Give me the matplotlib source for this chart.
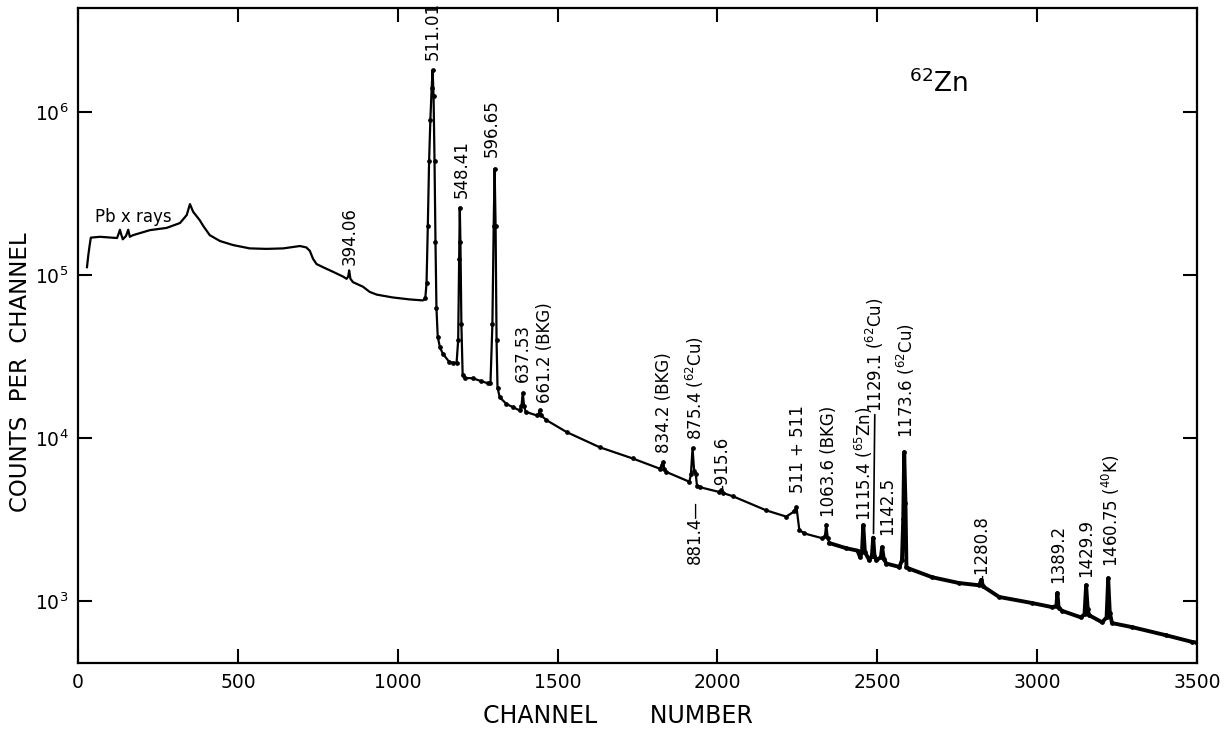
import numpy as np
import matplotlib
matplotlib.use("Agg")
from matplotlib import pyplot as plt
from matplotlib.ticker import NullLocator

# 62Zn gamma-ray spectrum
channel = [28, 32, 36, 40, 69, 122, 128, 131, 135, 140, 150, 157, 162, 172, 225, 277, 319, 340,
           350, 360, 381, 392, 412, 444, 485, 537, 590, 642, 694, 714, 725, 735, 746, 766, 797,
           829, 840, 845, 848, 852, 860, 891, 912, 934, 984, 1037, 1079, 1086, 1090, 1094, 1098,
           1102, 1106, 1109, 1112, 1115, 1118, 1121, 1125, 1132, 1141, 1160, 1172, 1184, 1189,
           1192, 1194, 1196, 1199, 1203, 1210, 1235, 1260, 1282, 1290, 1296, 1300, 1303, 1306,
           1309, 1312, 1319, 1340, 1360, 1381, 1387, 1391, 1395, 1400, 1434, 1441, 1444, 1448,
           1465, 1528, 1631, 1735, 1819, 1826, 1829, 1833, 1840, 1912, 1917, 1922, 1927, 1932,
           1936, 1945, 2006, 2012, 2018, 2048, 2153, 2215, 2240, 2247, 2256, 2272, 2328, 2336,
           2340, 2345, 2350, 2403, 2438, 2446, 2452, 2456, 2461, 2475, 2483, 2487, 2491, 2497,
           2511, 2515, 2520, 2528, 2569, 2577, 2581, 2584, 2588, 2591, 2600, 2672, 2756, 2819,
           2825, 2831, 2881, 2984, 3047, 3060, 3063, 3067, 3078, 3137, 3148, 3153, 3158, 3162,
           3203, 3217, 3222, 3227, 3234, 3297, 3403, 3484, 3500]
counts = [1.12e5, 1.32e5, 1.51e5, 1.70e5, 1.72e5, 1.69e5, 1.82e5, 1.90e5, 1.78e5, 1.66e5,
          1.74e5, 1.90e5, 1.72e5, 1.76e5, 1.89e5, 1.95e5, 2.09e5, 2.34e5, 2.73e5, 2.45e5,
          2.17e5, 2.0e5, 1.76e5, 1.62e5, 1.53e5, 1.46e5, 1.45e5, 1.46e5, 1.51e5, 1.48e5,
          1.41e5, 1.26e5, 1.17e5, 1.12e5, 1.05e5, 9.8e4, 9.5e4, 9.8e4, 1.07e5, 9.5e4, 9.06e4,
          8.5e4, 7.9e4, 7.6e4, 7.3e4, 7.1e4, 7.0e4, 7.2e4, 8.9e4, 2.0e5, 5.0e5, 9.0e5, 1.4e6,
          1.81e6, 1.26e6, 5.0e5, 1.6e5, 6.3e4, 4.2e4, 3.6e4, 3.3e4, 2.95e4, 2.9e4, 2.9e4,
          4.0e4, 1.26e5, 2.6e5, 1.6e5, 5.0e4, 2.43e4, 2.34e4, 2.33e4, 2.24e4, 2.17e4, 2.19e4,
          5.0e4, 2.0e5, 4.5e5, 2.0e5, 4.0e4, 2.04e4, 1.78e4, 1.62e4, 1.55e4, 1.48e4, 1.58e4,
          1.9e4, 1.58e4, 1.45e4, 1.38e4, 1.41e4, 1.48e4, 1.38e4, 1.29e4, 1.09e4, 8.8e3, 7.5e3,
          6.5e3, 6.8e3, 7.1e3, 6.5e3, 6.2e3, 5.4e3, 6.0e3, 8.7e3, 6.3e3, 6.0e3, 5.1e3, 5.0e3,
          4.67e3, 4.8e3, 4.6e3, 4.4e3, 3.6e3, 3.3e3, 3.55e3, 3.78e3, 2.73e3, 2.6e3, 2.43e3,
          2.5e3, 2.95e3, 2.45e3, 2.27e3, 2.11e3, 2.04e3, 1.86e3, 2.0e3, 2.92e3, 2.0e3, 1.78e3,
          1.9e3, 2.45e3, 1.9e3, 1.78e3, 1.86e3, 2.14e3, 1.82e3, 1.7e3, 1.62e3, 1.78e3, 3.2e3,
          8.2e3, 4.0e3, 1.62e3, 1.58e3, 1.4e3, 1.29e3, 1.25e3, 1.35e3, 1.23e3, 1.06e3, 973,
          918, 933, 1.12e3, 912, 871, 794, 832, 1.25e3, 891, 820, 741, 794, 1.38e3, 851, 733,
          692, 617, 562, 556]

# peak labels: text, channel, counts at the lower end of the label
peak_text = ["394.06", "511.01", "548.41", "596.65", "637.53", "661.2 (BKG)", "834.2 (BKG)",
             "875.4 ($^{62}$Cu)", "-915.6", "511 + 511", "1063.6 (BKG)", "1115.4 ($^{65}$Zn)",
             "1142.5", "1173.6 ($^{62}$Cu)", "-1280.8", "1389.2", "1429.9",
             "1460.75 ($^{40}$K)"]
peak_ch = [850, 1109, 1199, 1293, 1391, 1459, 1834, 1928, 2015, 2253, 2350, 2459, 2531, 2590,
           2828, 3066, 3153, 3231]
peak_y = [1.15e5, 2.1e6, 2.97e5, 5.3e5, 2.2e4, 1.64e4, 8.1e3, 9.7e3, 4.8e3, 4.6e3, 3.27e3,
          3.1e3, 2.54e3, 1.0e4, 1.35e3, 1.29e3, 1.4e3, 1.62e3]

plt.rcParams['font.family'] = ['DejaVu Sans']

fig = plt.figure(figsize=(12.27, 7.30), dpi=100)
ax = fig.add_axes([0.0636, 0.0918, 0.912, 0.897])

ch = np.array(channel)
ct = np.array(counts)
ax.plot(ch[ch <= 2350], ct[ch <= 2350], color='black', lw=1.6)
ax.plot(ch[ch >= 2350], ct[ch >= 2350], color='black', lw=2.8)
sel = ch >= 1086
ax.plot(ch[sel], ct[sel], ls='none', marker='o', ms=2.4, color='black')

ax.set_yscale('log')
ax.set_xlim(0, 3500)
ax.set_ylim(417, 4.35e6)
ax.set_xticks([0, 500, 1000, 1500, 2000, 2500, 3000, 3500])
ax.set_yticks([1e3, 1e4, 1e5, 1e6])
ax.yaxis.set_minor_locator(NullLocator())
ax.tick_params(which='major', direction='in', length=10, width=1.5, top=True, right=True,
               labelsize=13.5, pad=7)
for s in ax.spines.values():
    s.set_linewidth(1.6)

ax.set_xlabel('CHANNEL       NUMBER', fontsize=17)
ax.xaxis.set_label_coords(0.4826, -0.063)
ax.set_ylabel('COUNTS  PER  CHANNEL', fontsize=16.5)
ax.yaxis.set_label_coords(-0.041, 0.444)

for t, x, y in zip(peak_text, peak_ch, peak_y):
    ax.text(x, y, t, rotation=90, ha='center', va='bottom', fontsize=12)

# 881.4 label hangs below the curve
ax.text(1928, 4.2e3, "881.4\u2014", rotation=90, ha='center', va='top', fontsize=12)
# 1129.1 label with a leader line down to its peak
ax.annotate("1129.1 ($^{62}$Cu)", xy=(2488, 2.6e3), xytext=(2494, 1.45e4), rotation=90,
            ha='center', va='bottom', fontsize=12,
            arrowprops=dict(arrowstyle='-', lw=1.2, color='black', shrinkA=0, shrinkB=0))

ax.text(53, 2.27e5, "Pb x rays", fontsize=12, ha='left', va='center')
ax.text(2600, 1.33e6, "$^{62}$Zn", fontsize=19, ha='left', va='baseline')

fig.savefig('out.png', dpi=100)
